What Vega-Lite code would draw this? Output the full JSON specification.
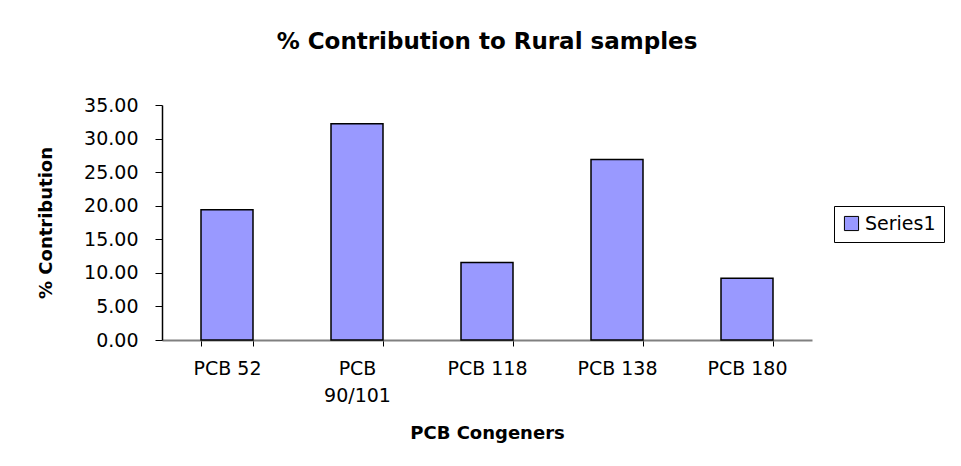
{
  "$schema": "https://vega.github.io/schema/vega-lite/v6.json",
  "width": 650,
  "height": 235,
  "autosize": "none",
  "padding": {"left": 162, "top": 105, "right": 149, "bottom": 126},
  "background": "white",
  "config": {
    "font": "DejaVu Sans",
    "view": {"stroke": null}
  },
  "title": {
    "text": "% Contribution to Rural samples",
    "font": "DejaVu Sans",
    "fontSize": 23,
    "fontWeight": "bold",
    "color": "black",
    "anchor": "middle",
    "offset": 42
  },
  "data": {
    "values": [
      {"congener": "PCB 52", "contribution": 19.4},
      {"congener": "PCB 90/101", "contribution": 32.2},
      {"congener": "PCB 118", "contribution": 11.56},
      {"congener": "PCB 138", "contribution": 26.9},
      {"congener": "PCB 180", "contribution": 9.2}
    ]
  },
  "mark": {"type": "bar", "stroke": "black", "strokeWidth": 1.5},
  "encoding": {
    "x": {
      "field": "congener",
      "type": "nominal",
      "sort": null,
      "scale": {"paddingInner": 0.6, "paddingOuter": 0.3},
      "axis": {
        "title": "PCB Congeners",
        "titleFont": "DejaVu Sans",
        "titleFontSize": 18,
        "titleFontWeight": "bold",
        "titleColor": "black",
        "titlePadding": 19,
        "labelAngle": 0,
        "labelFont": "DejaVu Sans",
        "labelFontSize": 19,
        "labelColor": "black",
        "labelPadding": 13,
        "labelLineHeight": 27,
        "labelExpr": "datum.label == 'PCB 90/101' ? ['PCB', '90/101'] : datum.label",
        "tickBand": "extent",
        "tickColor": "black",
        "tickSize": 6,
        "tickWidth": 1,
        "domainColor": "#808080",
        "domainWidth": 2
      }
    },
    "y": {
      "field": "contribution",
      "type": "quantitative",
      "scale": {"domain": [0, 35], "nice": false},
      "axis": {
        "title": "% Contribution",
        "titleFont": "DejaVu Sans",
        "titleFontSize": 18,
        "titleFontWeight": "bold",
        "titleColor": "black",
        "titlePadding": 28,
        "values": [0, 5, 10, 15, 20, 25, 30, 35],
        "format": ".2f",
        "labelFont": "DejaVu Sans",
        "labelFontSize": 19,
        "labelColor": "black",
        "labelPadding": 17,
        "grid": false,
        "tickColor": "black",
        "tickSize": 7,
        "domainColor": "black",
        "domainWidth": 1.5
      }
    },
    "color": {
      "datum": "Series1",
      "scale": {"range": ["#9999FF"]},
      "legend": {
        "title": null,
        "orient": "none",
        "legendX": 672,
        "legendY": 101,
        "strokeColor": "black",
        "padding": 8,
        "symbolType": "square",
        "symbolSize": 200,
        "symbolStrokeColor": "black",
        "symbolStrokeWidth": 1,
        "labelFont": "DejaVu Sans",
        "labelFontSize": 19,
        "labelColor": "black",
        "labelOffset": 4
      }
    }
  }
}
